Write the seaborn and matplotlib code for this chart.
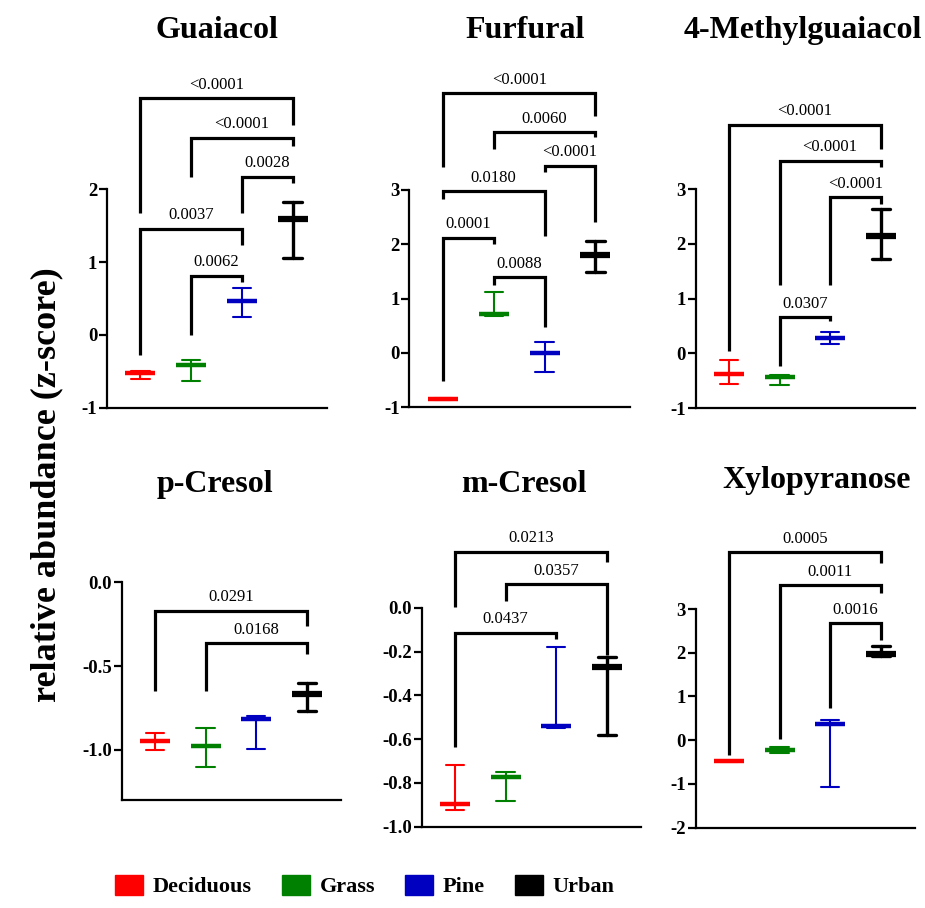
import numpy as np
import pandas as pd
import matplotlib
matplotlib.use('Agg')
import matplotlib.pyplot as plt
import seaborn as sns
from matplotlib.patches import Patch

sns.set_theme(style='ticks')
plt.rcParams['font.family'] = ['Liberation Serif', 'DejaVu Serif']
plt.rcParams['text.color'] = 'black'
plt.rcParams['axes.labelcolor'] = 'black'
plt.rcParams['xtick.color'] = 'black'
plt.rcParams['ytick.color'] = 'black'
plt.rcParams['axes.edgecolor'] = 'black'

groups = ['Deciduous', 'Grass', 'Pine', 'Urban']
colors = ['#FF0000', '#008000', '#0000C0', '#000000']

titles = ['Guaiacol', 'Furfural', '4-Methylguaiacol', 'p-Cresol', 'm-Cresol', 'Xylopyranose']

# median, min, max per group
guaiacol_mid = [-0.53, -0.42, 0.47, 1.59]
guaiacol_low = [-0.60, -0.63, 0.25, 1.05]
guaiacol_high = [-0.49, -0.35, 0.64, 1.83]

furfural_mid = [-0.84, 0.72, 0.00, 1.80]
furfural_low = [-0.86, 0.68, -0.35, 1.49]
furfural_high = [-0.82, 1.13, 0.20, 2.07]

methylguaiacol_mid = [-0.38, -0.43, 0.28, 2.15]
methylguaiacol_low = [-0.56, -0.58, 0.18, 1.73]
methylguaiacol_high = [-0.11, -0.40, 0.39, 2.63]

pcresol_mid = [-0.946, -0.976, -0.815, -0.67]
pcresol_low = [-1.00, -1.10, -0.996, -0.77]
pcresol_high = [-0.90, -0.87, -0.80, -0.60]

mcresol_mid = [-0.898, -0.772, -0.539, -0.269]
mcresol_low = [-0.924, -0.883, -0.551, -0.581]
mcresol_high = [-0.72, -0.75, -0.18, -0.224]

xylo_mid = [-0.48, -0.23, 0.36, 1.96]
xylo_low = [-0.49, -0.29, -1.07, 1.92]
xylo_high = [-0.47, -0.145, 0.46, 2.15]

# significance brackets: (group i, group j, p label, bar height, left leg end, right leg end)
guaiacol_sig = [(1, 2, '0.0062', 0.81, 0.00, 0.72),
                (0, 2, '0.0037', 1.46, -0.28, 1.24),
                (2, 3, '0.0028', 2.17, 1.68, 2.08),
                (1, 3, '<0.0001', 2.71, 2.17, 2.59),
                (0, 3, '<0.0001', 3.25, 1.68, 2.89)]
furfural_sig = [(1, 2, '0.0088', 1.39, 1.26, 0.47),
                (0, 1, '0.0001', 2.12, -0.52, 2.01),
                (0, 2, '0.0180', 2.975, 2.84, 2.15),
                (2, 3, '<0.0001', 3.45, 3.33, 2.42),
                (1, 3, '0.0060', 4.06, 3.75, 3.97),
                (0, 3, '<0.0001', 4.78, 3.43, 4.37)]
methylguaiacol_sig = [(1, 2, '0.0307', 0.66, -0.22, 0.60),
                      (2, 3, '<0.0001', 2.85, 1.25, 2.73),
                      (1, 3, '<0.0001', 3.51, 1.25, 3.40),
                      (0, 3, '<0.0001', 4.17, 0.04, 3.73)]
pcresol_sig = [(1, 3, '0.0168', -0.365, -0.647, -0.43),
               (0, 3, '0.0291', -0.17, -0.647, -0.26)]
mcresol_sig = [(0, 2, '0.0437', -0.114, -0.635, -0.145),
               (1, 3, '0.0357', 0.107, 0.03, -0.216),
               (0, 3, '0.0213', 0.256, 0.005, 0.21)]
xylo_sig = [(2, 3, '0.0016', 2.67, 0.74, 2.30),
            (1, 3, '0.0011', 3.54, 0.03, 3.37),
            (0, 3, '0.0005', 4.30, -0.33, 4.05)]

ylims = [(-1, 2), (-1, 3), (-1, 3), (-1.3, 0.0), (-1.0, 0.0), (-2, 3)]
yticks = [[-1, 0, 1, 2], [-1, 0, 1, 2, 3], [-1, 0, 1, 2, 3],
          [-1.0, -0.5, 0.0], [-1.0, -0.8, -0.6, -0.4, -0.2, 0.0], [-2, -1, 0, 1, 2, 3]]
fmts = ['{:.0f}', '{:.0f}', '{:.0f}', '{:.1f}', '{:.1f}', '{:.0f}']

panels = [
    (guaiacol_mid, guaiacol_low, guaiacol_high, guaiacol_sig),
    (furfural_mid, furfural_low, furfural_high, furfural_sig),
    (methylguaiacol_mid, methylguaiacol_low, methylguaiacol_high, methylguaiacol_sig),
    (pcresol_mid, pcresol_low, pcresol_high, pcresol_sig),
    (mcresol_mid, mcresol_low, mcresol_high, mcresol_sig),
    (xylo_mid, xylo_low, xylo_high, xylo_sig),
]

W, H = 925, 908
# axes boxes in pixels: left, right, bottom, top
boxes = [(107, 327, 407.7, 189.3), (409.3, 630, 407.3, 190), (695.7, 915, 408.3, 189),
         (121.7, 341, 800, 582.3), (421.7, 641, 826.7, 607.7), (695.7, 915, 827.7, 609)]
title_pos = [(217, 38), (525, 38), (803, 38), (215, 492), (524, 492), (817, 488)]

fig = plt.figure(figsize=(W / 100, H / 100), dpi=100)

for k, (mid, low, high, sig) in enumerate(panels):
    l, r, b, t = boxes[k]
    ax = fig.add_axes([l / W, 1 - b / H, (r - l) / W, (b - t) / H])
    df = pd.DataFrame({
        'group': groups * 3,
        'value': list(low) + list(mid) + list(high),
    })
    common = dict(x='group', y='value', hue='group', order=groups, hue_order=groups,
                  palette=colors, estimator='median', errorbar=('pi', 100),
                  capsize=0.36, marker='_', markersize=22, linestyle='none',
                  legend=False, ax=ax)
    sns.pointplot(data=df[df.group != 'Urban'], markeredgewidth=3.2,
                  err_kws={'linewidth': 1.5}, **common)
    sns.pointplot(data=df[df.group == 'Urban'], markeredgewidth=4.5,
                  err_kws={'linewidth': 2.4}, **common)

    for i, j, lab, yb, yl, yr in sig:
        ax.plot([i, i, j, j], [yl, yb, yb, yr], color='black', lw=2.3,
                clip_on=False, solid_joinstyle='miter', solid_capstyle='butt')
        ax.annotate(lab, xy=((i + j) / 2, yb), xytext=(0, 4), textcoords='offset points',
                    ha='center', va='bottom', fontsize=12, annotation_clip=False)

    ax.set_xlim(-0.66, 3.68)
    ax.set_ylim(*ylims[k])
    ax.set_yticks(yticks[k])
    ax.set_yticklabels([fmts[k].format(v) for v in yticks[k]], fontweight='bold')
    ax.set_xticks([])
    ax.set_xlabel('')
    ax.set_ylabel('')
    sns.despine(ax=ax)
    for s in ['left', 'bottom']:
        ax.spines[s].set_linewidth(1.6)
        ax.spines[s].set_color('black')
    ax.tick_params(axis='y', direction='out', length=6, width=1.6, labelsize=13.5,
                   pad=1, colors='black')

    fig.text(title_pos[k][0] / W, 1 - title_pos[k][1] / H, titles[k], ha='center',
             va='baseline', fontsize=23, fontweight='bold')

fig.text(47 / W, 1 - 485 / H, 'relative abundance (z-score)', rotation=90,
         ha='center', va='center', fontsize=26, fontweight='bold')

handles = [Patch(facecolor=c, edgecolor=c) for c in colors]
fig.legend(handles, groups, loc='center left', bbox_to_anchor=(115 / W, 1 - 886 / H),
           ncol=4, frameon=False, prop={'weight': 'bold', 'size': 16},
           handlelength=1.25, handleheight=1.0, handletextpad=0.45,
           columnspacing=1.35, borderpad=0, borderaxespad=0)

fig.savefig('out.png', dpi=100)
